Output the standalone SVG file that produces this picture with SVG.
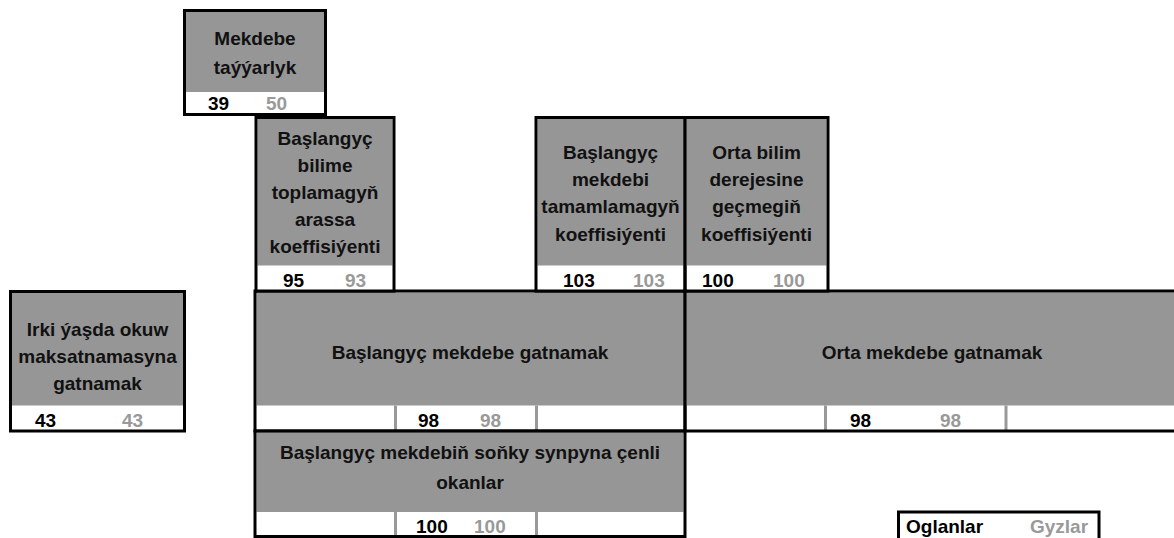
<svg xmlns="http://www.w3.org/2000/svg" width="1174" height="538" viewBox="0 0 1174 538">
<style>
.g{fill:#969696}
.b{fill:none;stroke:#000;stroke-width:3}
.d{stroke:#999;stroke-width:3}
.t{font-family:"Liberation Sans",Arial,sans-serif;font-weight:bold;font-size:19px;fill:#111;text-anchor:middle}
.n{font-family:"Liberation Sans",Arial,sans-serif;font-weight:bold;font-size:19px;fill:#000}
.ng{font-family:"Liberation Sans",Arial,sans-serif;font-weight:bold;font-size:19px;fill:#999}
</style>
<rect width="1174" height="538" fill="#fff"/>
<g id="mekdebe-tayyarlyk">
<rect class="g" x="186" y="12" width="138" height="80"/>
<rect class="b" x="184.5" y="10.5" width="141" height="104"/>
<text class="t" x="255" y="45">Mekdebe</text>
<text class="t" x="255" y="74">taýýarlyk</text>
<text class="n" x="208" y="110">39</text>
<text class="ng" x="266" y="110">50</text>
</g>
<g id="baslangyc-bilime">
<rect class="g" x="257.5" y="119" width="135" height="146.5"/>
<rect class="b" x="256" y="117.5" width="138" height="174"/>
<text class="t" x="325" y="145">Başlangyç</text>
<text class="t" x="325" y="172">bilime</text>
<text class="t" x="325" y="199">toplamagyň</text>
<text class="t" x="325" y="226">arassa</text>
<text class="t" x="325" y="253">koeffisiýenti</text>
<text class="n" x="283" y="287">95</text>
<text class="ng" x="345" y="287">93</text>
</g>
<g id="baslangyc-tamamlamak">
<rect class="g" x="537.5" y="119" width="146" height="146.5"/>
<rect class="b" x="536" y="117.5" width="149" height="174"/>
<text class="t" x="610.5" y="159">Başlangyç</text>
<text class="t" x="610.5" y="186">mekdebi</text>
<text class="t" x="610.5" y="213">tamamlamagyň</text>
<text class="t" x="610.5" y="241">koeffisiýenti</text>
<text class="n" x="563" y="287">103</text>
<text class="ng" x="633" y="287">103</text>
</g>
<g id="orta-bilim-gecmek">
<rect class="g" x="686.5" y="119" width="140" height="146.5"/>
<rect class="b" x="685" y="117.5" width="143" height="174"/>
<text class="t" x="756.5" y="159">Orta bilim</text>
<text class="t" x="756.5" y="186">derejesine</text>
<text class="t" x="756.5" y="213">geçmegiň</text>
<text class="t" x="756.5" y="241">koeffisiýenti</text>
<text class="n" x="702" y="287">100</text>
<text class="ng" x="773" y="287">100</text>
</g>
<g id="irki-yasda">
<rect class="g" x="12" y="293" width="171" height="112.5"/>
<rect class="b" x="10.5" y="291.5" width="174" height="139.5"/>
<text class="t" x="97.5" y="336">Irki ýaşda okuw</text>
<text class="t" x="97.5" y="363">maksatnamasyna</text>
<text class="t" x="97.5" y="390">gatnamak</text>
<text class="n" x="35" y="427">43</text>
<text class="ng" x="122" y="427">43</text>
</g>
<g id="baslangyc-gatnamak">
<rect class="g" x="256.5" y="292.5" width="427" height="113"/>
<line class="d" x1="395.5" y1="405.5" x2="395.5" y2="430"/>
<line class="d" x1="536.5" y1="405.5" x2="536.5" y2="430"/>
<rect class="b" x="255" y="291" width="430" height="140"/>
<text class="t" x="470" y="359">Başlangyç mekdebe gatnamak</text>
<text class="n" x="418" y="427">98</text>
<text class="ng" x="480" y="427">98</text>
</g>
<g id="orta-gatnamak">
<rect class="g" x="686.5" y="292.5" width="490" height="113"/>
<line class="d" x1="825.5" y1="405.5" x2="825.5" y2="430"/>
<line class="d" x1="1006" y1="405.5" x2="1006" y2="430"/>
<rect class="b" x="685" y="291" width="495" height="140"/>
<text class="t" x="932" y="359">Orta mekdebe gatnamak</text>
<text class="n" x="850" y="427">98</text>
<text class="ng" x="940" y="427">98</text>
</g>
<g id="sonky-synp">
<rect class="g" x="256.5" y="432.5" width="427" height="79.5"/>
<line class="d" x1="395.5" y1="512" x2="395.5" y2="535"/>
<line class="d" x1="536.5" y1="512" x2="536.5" y2="535"/>
<rect class="b" x="255" y="431" width="430" height="105.5"/>
<text class="t" x="470" y="459">Başlangyç mekdebiň soňky synpyna çenli</text>
<text class="t" x="470" y="489">okanlar</text>
<text class="n" x="416" y="533">100</text>
<text class="ng" x="474" y="533">100</text>
</g>
<g id="legend">
<rect class="b" x="898.5" y="512" width="200.5" height="30"/>
<text class="n" x="906" y="533">Oglanlar</text>
<text class="ng" x="1030" y="533">Gyzlar</text>
</g>
</svg>
